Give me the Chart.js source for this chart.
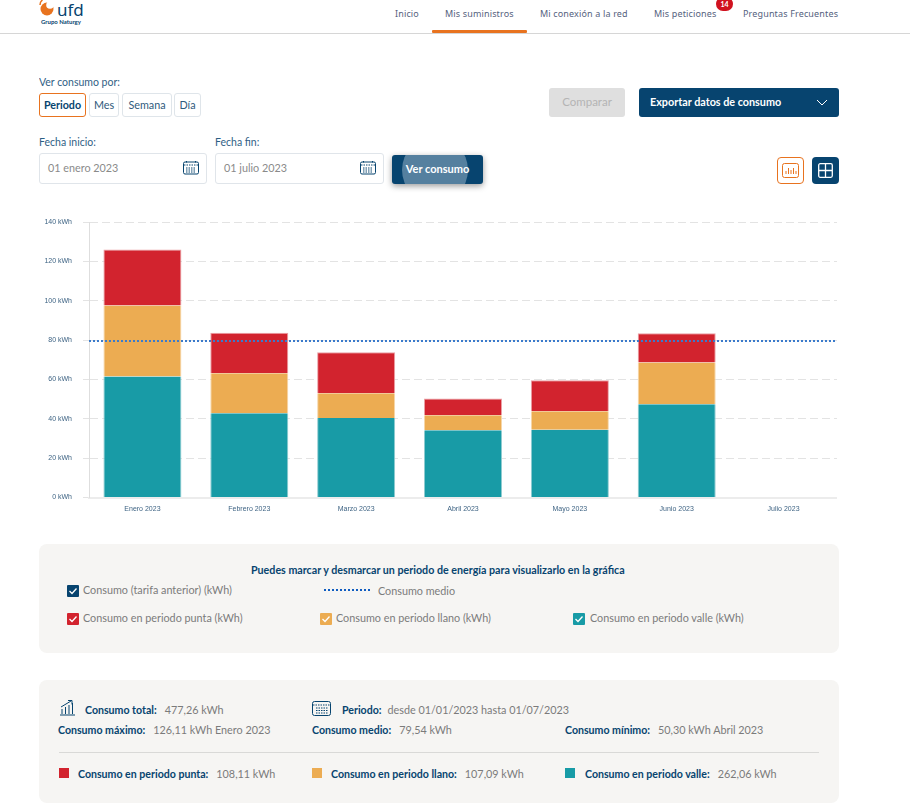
<!DOCTYPE html>
<html lang="es">
<head>
<meta charset="utf-8">
<title>Mis suministros</title>
<script src="https://cdn.jsdelivr.net/npm/chart.js@4"></script>
<style>
    html, body { margin: 0; padding: 0; background: #fff; }
    body { position: relative; width: 910px; height: 804px; overflow: hidden; font-family: Lato, sans-serif; color: #7b7b7b; font-size: 10.8px; }
    .abs { position: absolute; white-space: nowrap; }
    .navy { color: #07446f; }
    .nav { top: 7px; font-size: 9px; color: #55627e; letter-spacing: .15px; font-family: "Noto Sans", sans-serif; }
    .btn { box-sizing: border-box; border: 1px solid #dfe5ea; border-radius: 3px; height: 24px; line-height: 22px; text-align: center; color: #2f5b7d; background: #fff; }
    .input { box-sizing: border-box; border: 1px solid #e0e5ea; border-radius: 3px; height: 31px; line-height: 28px; padding-left: 8px; color: #8a8a8a; background: #fff; }
    .panel { background: #f6f5f3; border-radius: 8px; }
    .check { width: 12px; height: 12px; border-radius: 1px; }
    .check svg { display: block; }
    .sq { width: 10px; height: 10px; }
    b { font-weight: 700; color: #07446f; font-size: 10.6px; margin-right: 8px; }
</style>
</head>
<body>

<!-- header -->
<svg class="abs" style="left:38px;top:0" width="20" height="18" viewBox="0 0 20 18"><circle cx="9" cy="9" r="6.500" fill="#e8731f"/><circle cx="12" cy="5" r="3.800" fill="#fff"/><path d="M2 5C2 3 3 1 4.500 0" stroke="#e8731f" stroke-width="1.500" fill="none"/></svg>
<div class="abs navy" style="left:57px;top:-2px;font-size:17px;font-family:'Noto Sans',sans-serif">ufd</div>
<div class="abs navy" style="left:41px;top:18px;font-size:6px;font-weight:700">Grupo Naturgy</div>
<div class="abs nav" style="left:395px">Inicio</div>
<div class="abs nav" style="left:445px">Mis suministros</div>
<div class="abs nav" style="left:540px">Mi conexión a la red</div>
<div class="abs nav" style="left:654px">Mis peticiones</div>
<div class="abs nav" style="left:743px">Preguntas Frecuentes</div>
<div class="abs" style="left:716px;top:-3px;width:17px;height:14px;border-radius:7px;background:#d0121f;color:#fff;font-size:7px;font-weight:700;text-align:center;line-height:15px">14</div>
<div class="abs" style="left:0;top:33px;width:910px;height:1px;background:#d6d6d6"></div>
<div class="abs" style="left:432px;top:30px;width:95px;height:3px;background:#e8731f;border-radius:1px"></div>

<!-- filters -->
<div class="abs navy" style="left:39px;top:76px;font-size:10.500px;opacity:.85">Ver consumo por:</div>
<div class="abs btn" style="left:39px;top:93px;width:47px;border-color:#e8731f;font-weight:700;color:#07446f;font-size:10.700px">Periodo</div>
<div class="abs btn" style="left:89px;top:93px;width:30px">Mes</div>
<div class="abs btn" style="left:122px;top:93px;width:50px">Semana</div>
<div class="abs btn" style="left:174px;top:93px;width:27px">Día</div>
<div class="abs navy" style="left:39px;top:136px;font-size:10.500px;opacity:.85">Fecha inicio:</div>
<div class="abs navy" style="left:215px;top:136px;font-size:10.500px;opacity:.85">Fecha fin:</div>
<div class="abs input" style="left:39px;top:153px;width:168px">01 enero 2023</div>
<div class="abs input" style="left:215px;top:153px;width:169px">01 julio 2023</div>
<svg class="abs" style="left:183px;top:160px" width="16" height="16" viewBox="0 0 16 16" fill="none" stroke="#07446f"><rect x=".5" y="2" width="15" height="12" rx="1.5"/><path d="M1 5h14M3.500 1v2M12.500 1v2M3 8h10M3 10h10M3 12h10" stroke-dasharray="1.500 1"/></svg>
<svg class="abs" style="left:360px;top:160px" width="16" height="16" viewBox="0 0 16 16" fill="none" stroke="#07446f"><rect x=".5" y="2" width="15" height="12" rx="1.5"/><path d="M1 5h14M3.500 1v2M12.500 1v2M3 8h10M3 10h10M3 12h10" stroke-dasharray="1.500 1"/></svg>
<div class="abs" style="left:392px;top:155px;width:91px;height:29px;border-radius:3px;background:#07446f;box-shadow:0 2px 6px rgba(0,0,0,.4);overflow:hidden">
    <div style="position:absolute;left:10px;top:-18px;width:66px;height:66px;border-radius:50%;background:#55809f"></div>
    <div style="position:absolute;left:0;width:91px;top:0;line-height:27px;text-align:center;color:#fff;font-weight:700;font-size:11px">Ver consumo</div>
</div>
<div class="abs" style="left:549px;top:88px;width:76px;height:29px;border-radius:3px;background:#dfdfdf;color:#b4b4b4;font-size:11.500px;text-align:center;line-height:27px">Comparar</div>
<div class="abs" style="left:639px;top:88px;width:200px;height:29px;border-radius:3px;background:#07446f;color:#fff;font-weight:700;line-height:28px;padding-left:11px;box-sizing:border-box">Exportar datos de consumo</div>
<svg class="abs" style="left:816px;top:99px" width="12" height="8" fill="none" stroke="#fff"><path d="M1 1l5 5 5-5"/></svg>
<div class="abs" style="left:777px;top:157px;width:27px;height:27px;box-sizing:border-box;border:1.500px solid #e8731f;border-radius:4px"></div>
<svg class="abs" style="left:782px;top:162px" width="17" height="17" fill="none" stroke="#e8731f"><rect x=".5" y="1.500" width="16" height="14" rx="2"/><path d="M4 12V9M6.500 12V6M9 12V8M11.500 12V6M14 12V9"/></svg>
<div class="abs" style="left:812px;top:157px;width:27px;height:27px;border-radius:4px;background:#07446f"></div>
<svg class="abs" style="left:818px;top:163px" width="15" height="15" fill="none" stroke="#fff" stroke-width="1.300"><rect x=".7" y=".7" width="13.600" height="13.600" rx="1.500"/><path d="M7.500 1v13M1 7.500h13"/></svg>

<!-- chart -->
<canvas id="consumo-chart" class="abs" style="left:0;top:207px" width="837" height="313"></canvas>

<!-- legend panel -->
<div class="abs panel" style="left:39px;top:544px;width:800px;height:109px"></div>
<div class="abs navy" style="left:251px;top:563px;font-weight:700;font-size:10.700px">Puedes marcar y desmarcar un periodo de energía para visualizarlo en la gráfica</div>
<div class="abs check" style="left:67px;top:585px;background:#07446f"><svg width="12" height="12" fill="none" stroke="#fff" stroke-width="1.300"><path d="M2.500 6l2.500 2.500 4.500-5"/></svg></div>
<div class="abs" style="left:83px;top:583px">Consumo (tarifa anterior) (kWh)</div>
<div class="abs" style="left:324px;top:589px;width:46px;border-top:2px dotted #0f5cc0"></div>
<div class="abs" style="left:378px;top:584px">Consumo medio</div>
<div class="abs check" style="left:67px;top:613px;background:#d2232e"><svg width="12" height="12" fill="none" stroke="#fff" stroke-width="1.300"><path d="M2.500 6l2.500 2.500 4.500-5"/></svg></div>
<div class="abs" style="left:83px;top:611px">Consumo en periodo punta (kWh)</div>
<div class="abs check" style="left:320px;top:613px;background:#ecac52"><svg width="12" height="12" fill="none" stroke="#fff" stroke-width="1.300"><path d="M2.500 6l2.500 2.500 4.500-5"/></svg></div>
<div class="abs" style="left:336px;top:611px">Consumo en periodo llano (kWh)</div>
<div class="abs check" style="left:573px;top:613px;background:#189ba6"><svg width="12" height="12" fill="none" stroke="#fff" stroke-width="1.300"><path d="M2.500 6l2.500 2.500 4.500-5"/></svg></div>
<div class="abs" style="left:590px;top:611px">Consumo en periodo valle (kWh)</div>

<!-- summary panel -->
<div class="abs panel" style="left:39px;top:680px;width:800px;height:123px"></div>
<svg class="abs" style="left:59px;top:699px" width="17" height="17" fill="none" stroke="#07446f"><path d="M1 16h15M3 15v-5M6.500 15V8M10 15V6M13.500 15V4M2 8l10-6M9 1.500h4v4"/></svg>
<div class="abs" style="left:85px;top:703px"><b>Consumo total:</b>477,26 kWh</div>
<svg class="abs" style="left:312px;top:700px" width="20" height="16" fill="none" stroke="#07446f"><rect x=".5" y="1.500" width="18" height="14" rx="2"/><path d="M1 5h18M4 8h12M4 10.500h12M4 13h12" stroke-dasharray="1.500 1"/></svg>
<div class="abs" style="left:342px;top:703px"><b style="margin-right:6px">Periodo:</b>desde 01/01/2023 hasta 01/07/2023</div>
<div class="abs" style="left:58px;top:723px"><b>Consumo máximo:</b>126,11 kWh Enero 2023</div>
<div class="abs" style="left:312px;top:723px"><b>Consumo medio:</b>79,54 kWh</div>
<div class="abs" style="left:565px;top:723px"><b>Consumo mínimo:</b>50,30 kWh Abril 2023</div>
<div class="abs" style="left:59px;top:752px;width:760px;height:1px;background:#d9d9d7"></div>
<div class="abs sq" style="left:59px;top:768px;background:#d2232e"></div>
<div class="abs" style="left:78px;top:767px"><b>Consumo en periodo punta:</b>108,11 kWh</div>
<div class="abs sq" style="left:312px;top:768px;background:#ecac52"></div>
<div class="abs" style="left:331px;top:767px"><b>Consumo en periodo llano:</b>107,09 kWh</div>
<div class="abs sq" style="left:565px;top:768px;background:#189ba6"></div>
<div class="abs" style="left:585px;top:767px"><b>Consumo en periodo valle:</b>262,06 kWh</div>

<script>
const months = ["Enero 2023", "Febrero 2023", "Marzo 2023", "Abril 2023", "Mayo 2023", "Junio 2023", "Julio 2023"];
const valle = [61.5, 42.9, 40.4, 34.2, 34.5, 47.4, 0];
const llano = [36.2, 20.3, 12.6, 7.6, 9.4, 21.3, 0];
const punta = [28.4, 20.6, 20.9, 8.5, 15.7, 14.8, 0];
const consumoMedio = 79.54;

const valleColor = '#189ba6';
const llanoColor = '#ecac52';
const puntaColor = '#d2232e';
const tickColor = '#3f6484';
const gridColor = '#e3e3e3';

const barDataset = (label, data, color, border, topBorder) => ({
    label: label,
    data: data,
    stack: 'consumo',
    order: 2,
    backgroundColor: color,
    borderColor: border,
    borderWidth: { left: 1, right: 1, top: topBorder, bottom: 0 },
    barPercentage: 0.73,
    categoryPercentage: 1
});

new Chart(document.getElementById('consumo-chart'), {
    type: 'bar',
    data: {
        labels: months,
        datasets: [
            barDataset('Consumo en periodo valle (kWh)', valle, valleColor, '#8fcbd0', 0),
            barDataset('Consumo en periodo llano (kWh)', llano, llanoColor, '#f6d6a8', 0),
            barDataset('Consumo en periodo punta (kWh)', punta, puntaColor, '#eaa0a5', 1),
            {
                // unparsed so the ends can sit half a category out, at the plot edges
                type: 'line',
                label: 'Consumo medio',
                parsing: false,
                data: [{x: -0.5, y: consumoMedio}, {x: months.length - 0.5, y: consumoMedio}],
                stack: 'medio',
                order: 1,
                borderColor: '#3a7bcc',
                borderWidth: 2,
                borderDash: [2, 2],
                pointRadius: 0
            }
        ]
    },
    options: {
        responsive: false,
        animation: false,
        plugins: {
            legend: { display: false },
            tooltip: { enabled: false }
        },
        scales: {
            x: {
                stacked: true,
                grid: { display: false, drawTicks: false },
                border: { color: '#ececec', width: 2 },
                ticks: {
                    color: tickColor,
                    font: { family: 'Liberation Sans', size: 7 },
                    maxRotation: 0,
                    padding: 7
                },
                afterFit: (scale) => { scale.height = 22.5; }
            },
            y: {
                stacked: true,
                min: 0,
                max: 140,
                grid: {
                    color: gridColor,
                    tickLength: 6,
                    tickBorderDash: [6, 0]
                },
                border: { color: '#dedede', dash: [8, 4] },
                ticks: {
                    stepSize: 20,
                    color: tickColor,
                    font: { family: 'Liberation Sans', size: 7 },
                    padding: 11,
                    callback: (value) => value + ' kWh'
                },
                afterFit: (scale) => { scale.width = 89; }
            }
        }
    }
});
</script>
</body>
</html>
